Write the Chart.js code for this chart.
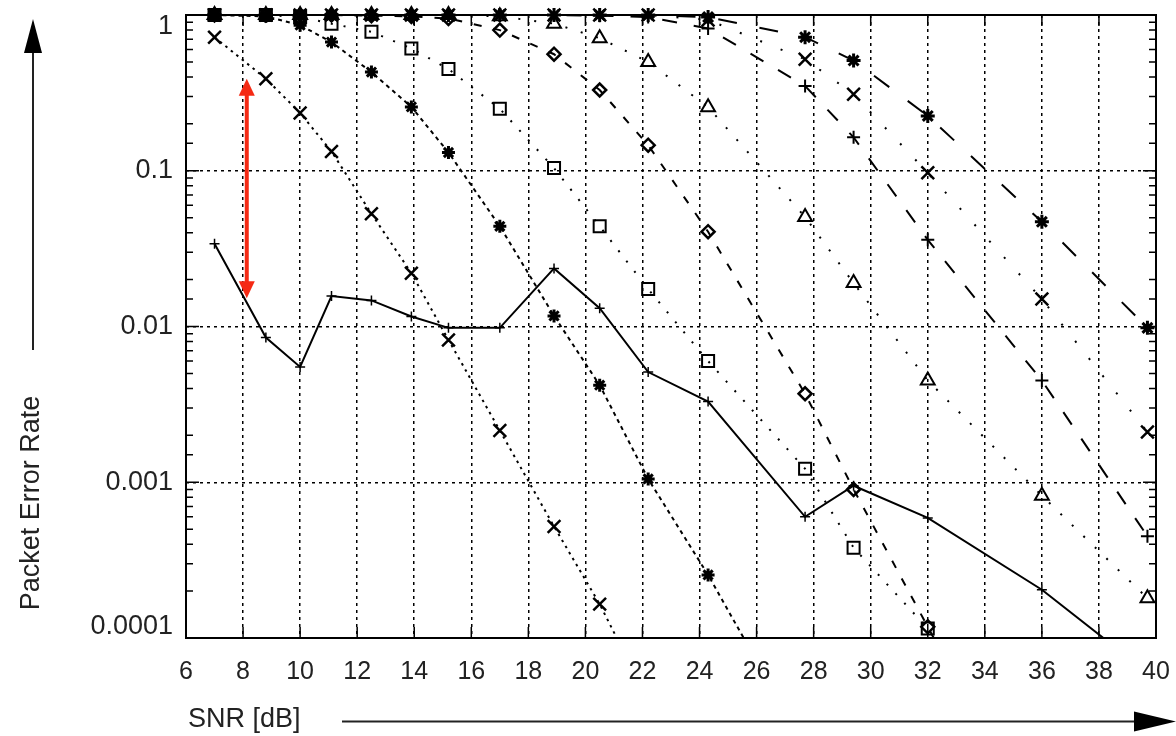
<!DOCTYPE html>
<html>
<head>
<title>Packet Error Rate vs SNR</title>
<script src="https://cdn.jsdelivr.net/npm/chart.js"></script>
<style>
  html, body { margin: 0; padding: 0; background: #fff; }
</style>
</head>
<body>
<canvas id="perChart" width="1176" height="736"></canvas>

<script>
// SNR points (dB), shared by every curve
const snr = [7, 8.8, 10, 11.1, 12.5, 13.9, 15.2, 17, 18.9, 20.5, 22.2, 24.3, 27.7, 29.4, 32, 36, 39.7];

// packet error rate per curve (null = not drawn)
const perSolid    = [0.034, 0.0085, 0.0055, 0.0157, 0.0147, 0.0116, 0.0098, 0.0098, 0.0236, 0.0131, 0.0051, 0.0033, 0.0006, 0.00095, 0.00059, 0.000204, 0.00006];
const perCross1   = [0.72, 0.39, 0.235, 0.133, 0.053, 0.022, 0.0082, 0.00215, 0.00052, 0.000165, 0.00004, null, null, null, null, null, null];
const perStar1    = [1.0, 0.98, 0.86, 0.67, 0.43, 0.257, 0.131, 0.044, 0.0117, 0.0042, 0.00105, 0.000254, 0.00002, null, null, null, null];
const perSquare   = [1.0, 1.0, 0.97, 0.88, 0.78, 0.61, 0.45, 0.25, 0.104, 0.044, 0.0174, 0.006, 0.00122, 0.00038, 0.000115, null, null];
const perDiamond  = [1.0, 1.0, 1.0, 1.0, 0.99, 0.98, 0.95, 0.80, 0.56, 0.33, 0.146, 0.0406, 0.0037, 0.0009, 0.000118, 0.000005, null];
const perTriangle = [1.0, 1.0, 1.0, 1.0, 1.0, 1.0, 1.0, 0.98, 0.88, 0.71, 0.5, 0.256, 0.0505, 0.019, 0.0045, 0.00082, 0.00018];
const perPlus     = [1.0, 1.0, 1.0, 1.0, 1.0, 1.0, 1.0, 1.0, 1.0, 0.99, 0.97, 0.82, 0.35, 0.164, 0.036, 0.0045, 0.00045];
const perCross2   = [1.0, 1.0, 1.0, 1.0, 1.0, 1.0, 1.0, 1.0, 1.0, 1.0, 1.0, 0.93, 0.52, 0.31, 0.097, 0.015, 0.0021];
const perStar2    = [1.0, 1.0, 1.0, 1.0, 1.0, 1.0, 1.0, 1.0, 1.0, 1.0, 1.0, 0.97, 0.72, 0.51, 0.225, 0.047, 0.0098];

// red double arrow (gain marker)
const gainArrowX = [8.13, 8.13];
const gainArrowY = [0.39, 0.0152];

// axis ticks / titles
const xMin = 6, xMax = 40, xStep = 2;
const yTickValues = [1, 0.1, 0.01, 0.001, 0.0001];
const yTickLabels = ['1', '0.1', '0.01', '0.001', '0.0001'];
const xTitle = 'SNR [dB]';
const yTitle = 'Packet Error Rate';

const FONT = "'Liberation Sans', Arial, sans-serif";

const styles = [
    { data: perSolid,    dash: [],         marker: 'cross',    r: 5,   mw: 1.5 },
    { data: perCross1,   dash: [2.5, 4.5], marker: 'crossRot', r: 9,   mw: 2.5 },
    { data: perStar1,    dash: [4, 4],     marker: 'star',     r: 6.5, mw: 3 },
    { data: perSquare,   dash: [2, 11],    marker: 'rect',     r: 8.5, mw: 2 },
    { data: perDiamond,  dash: [8, 12],    marker: 'rectRot',  r: 6.5, mw: 2.5 },
    { data: perTriangle, dash: [2, 14],    marker: 'triangle', r: 8,   mw: 2 },
    { data: perPlus,     dash: [15, 17],   marker: 'cross',    r: 6.5, mw: 2 },
    { data: perCross2,   dash: [2, 20],    marker: 'crossRot', r: 9,   mw: 2.5 },
    { data: perStar2,    dash: [19, 23],   marker: 'star',     r: 7,   mw: 3 }
];

function isDecade(v) {
    const l = Math.log10(v);
    return Math.abs(l - Math.round(l)) < 1e-6;
}

function arrowHead(ctx, tipX, tipY, dirX, dirY, len, half) {
    const bx = tipX - dirX * len, by = tipY - dirY * len;
    ctx.beginPath();
    ctx.moveTo(tipX, tipY);
    ctx.lineTo(bx - dirY * half, by + dirX * half);
    ctx.lineTo(bx + dirY * half, by - dirX * half);
    ctx.closePath();
    ctx.fill();
}

const decor = {
    id: 'decor',
    beforeDatasetsDraw(chart) {
        const { ctx, chartArea: a, scales: { x, y } } = chart;
        ctx.save();
        ctx.strokeStyle = '#000';
        ctx.lineWidth = 1.5;
        ctx.beginPath();
        x.ticks.forEach(t => {
            const px = x.getPixelForValue(t.value);
            ctx.moveTo(px, a.bottom); ctx.lineTo(px, a.bottom - 11);
            ctx.moveTo(px, a.top); ctx.lineTo(px, a.top + 11);
        });
        y.ticks.forEach(t => {
            const py = y.getPixelForValue(t.value);
            const len = isDecade(t.value) ? 13 : 7;
            ctx.moveTo(a.left, py); ctx.lineTo(a.left + len, py);
            ctx.moveTo(a.right, py); ctx.lineTo(a.right - len, py);
        });
        ctx.stroke();
        ctx.lineWidth = 2;
        ctx.strokeRect(a.left, a.top, a.right - a.left, a.bottom - a.top);
        ctx.restore();
    },
    afterDraw(chart) {
        const { ctx, chartArea: a, scales: { x, y } } = chart;
        ctx.save();

        // axis titles with arrows
        ctx.fillStyle = '#222';
        ctx.strokeStyle = '#222';
        ctx.lineWidth = 2;
        ctx.font = '27px ' + FONT;
        ctx.textBaseline = 'middle';
        ctx.textAlign = 'left';
        ctx.fillText(xTitle, a.left + 2, 720);
        ctx.beginPath();
        ctx.moveTo(342, 721.5); ctx.lineTo(1140, 721.5);
        ctx.stroke();
        ctx.fillStyle = '#000';
        arrowHead(ctx, 1176, 721.5, 1, 0, 42, 10);

        ctx.save();
        ctx.translate(32, 503);
        ctx.rotate(-Math.PI / 2);
        ctx.textAlign = 'center';
        ctx.fillStyle = '#222';
        ctx.fillText(yTitle, 0, 0);
        ctx.restore();
        ctx.beginPath();
        ctx.moveTo(33, 350); ctx.lineTo(33, 50);
        ctx.stroke();
        arrowHead(ctx, 33, 19, 0, -1, 34, 9);

        // red gain arrow
        const gx = x.getPixelForValue(gainArrowX[0]);
        const gTop = y.getPixelForValue(gainArrowY[0]);
        const gBot = y.getPixelForValue(gainArrowY[1]);
        ctx.strokeStyle = '#f52a14';
        ctx.fillStyle = '#f52a14';
        ctx.lineWidth = 4;
        ctx.beginPath();
        ctx.moveTo(gx, gTop + 14); ctx.lineTo(gx, gBot - 14);
        ctx.stroke();
        arrowHead(ctx, gx, gTop, 0, -1, 17, 8);
        arrowHead(ctx, gx, gBot, 0, 1, 17, 8);
        ctx.restore();
    }
};

const ctx = document.getElementById('perChart').getContext('2d');

new Chart(ctx, {
    type: 'line',
    data: {
        datasets: styles.map(s => ({
            data: snr.map((v, i) => ({ x: v, y: s.data[i] })),
            borderColor: '#000',
            borderWidth: 2,
            borderDash: s.dash,
            borderCapStyle: 'butt',
            fill: false,
            tension: 0,
            pointStyle: s.marker,
            pointRadius: s.r,
            pointBorderWidth: s.mw,
            pointBorderColor: '#000',
            pointBackgroundColor: 'rgba(0,0,0,0)',
            clip: { left: 12, top: 14, right: 14, bottom: 0 }
        }))
    },
    options: {
        responsive: false,
        animation: false,
        events: [],
        layout: { padding: { left: 0, top: 15, right: 20, bottom: 0 } },
        plugins: {
            legend: { display: false },
            tooltip: { enabled: false }
        },
        scales: {
            x: {
                type: 'linear',
                min: xMin,
                max: xMax,
                afterFit(s) { s.height = 98; s.paddingLeft = 0; s.paddingRight = 0; },
                ticks: {
                    stepSize: xStep,
                    autoSkip: false,
                    maxRotation: 0,
                    padding: 19,
                    color: '#222',
                    font: { family: FONT, size: 25 }
                },
                grid: {
                    drawTicks: false,
                    lineWidth: 1.5,
                    color: c => (c.tick && (c.tick.value === xMin || c.tick.value === xMax)) ? 'rgba(0,0,0,0)' : '#000'
                },
                border: { display: false, dash: [3, 4] }
            },
            y: {
                type: 'logarithmic',
                min: yTickValues[yTickValues.length - 1],
                max: yTickValues[0],
                afterFit(s) { s.width = 186; s.paddingTop = 0; s.paddingBottom = 0; },
                ticks: {
                    autoSkip: false,
                    padding: 13,
                    color: '#222',
                    font: { family: FONT, size: 27, lineHeight: 0.85 },
                    callback: v => {
                        if (!isDecade(v)) return '';
                        const i = yTickValues.findIndex(t => Math.abs(Math.log10(t) - Math.log10(v)) < 1e-6);
                        if (i < 0) return '';
                        if (i === 0) return ['', yTickLabels[i]];
                        if (i === yTickValues.length - 1) return [yTickLabels[i], ''];
                        return yTickLabels[i];
                    }
                },
                grid: {
                    drawTicks: false,
                    lineWidth: 1.5,
                    color: c => {
                        const v = c.tick && c.tick.value;
                        return (v && isDecade(v) && v < 0.9 && v > 1.1e-4) ? '#000' : 'rgba(0,0,0,0)';
                    }
                },
                border: { display: false, dash: [3, 4] }
            }
        }
    },
    plugins: [decor]
});
</script>
</body>
</html>
